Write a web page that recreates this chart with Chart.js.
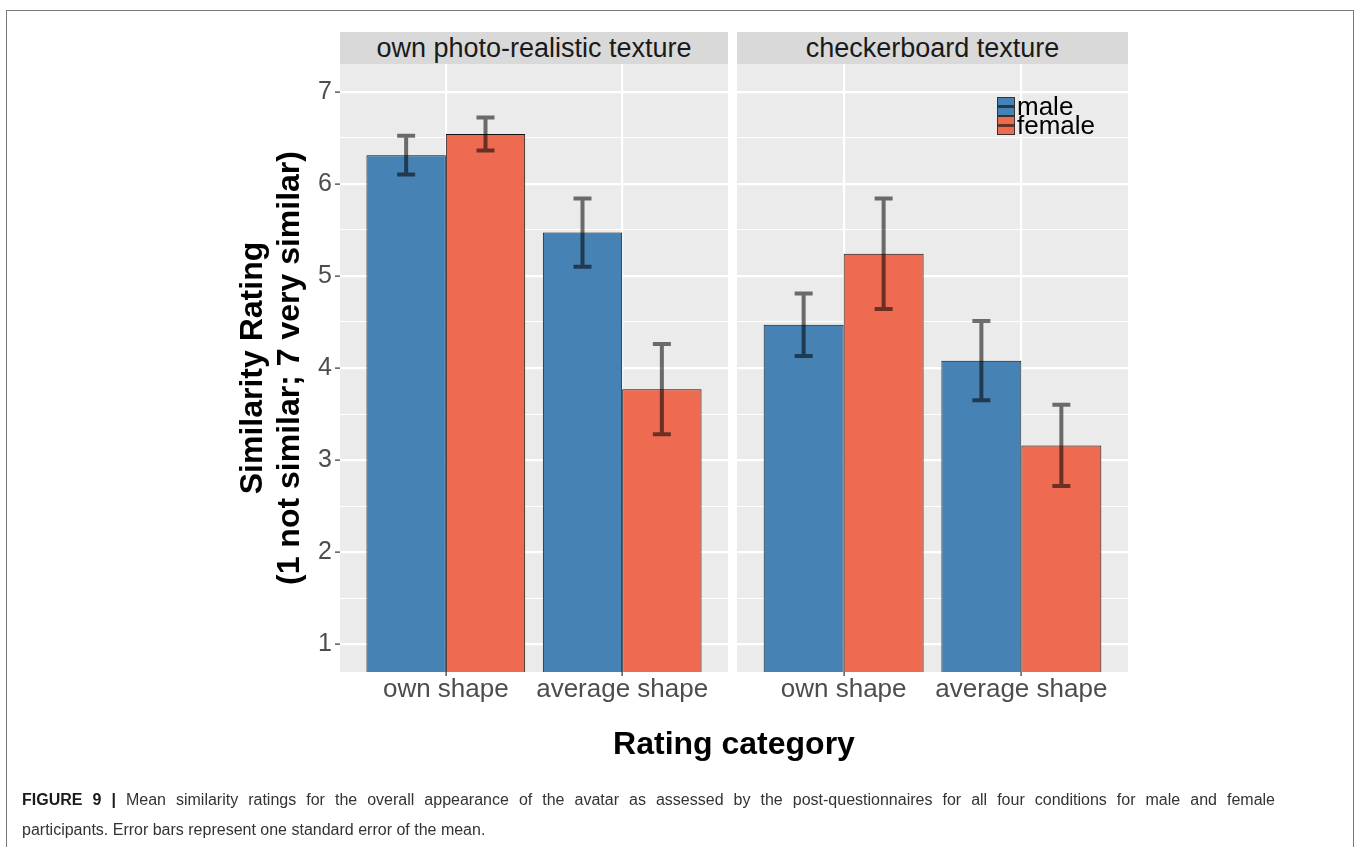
<!DOCTYPE html>
<html>
<head>
<meta charset="utf-8">
<script src="https://cdn.jsdelivr.net/npm/chart.js@4.4.1/dist/chart.umd.min.js"></script>
<style>
html,body{margin:0;padding:0;background:#fff;width:1358px;height:847px;overflow:hidden;font-family:"Liberation Sans",Arial,Helvetica,sans-serif;}
#frame{position:absolute;left:6px;top:10px;width:1348px;height:900px;border:1.5px solid #7a7a7a;box-sizing:border-box;}
canvas{position:absolute;left:0;top:0;}
.strip{position:absolute;top:32px;height:32px;background:#D9D9D9;color:#1A1A1A;font-size:27px;line-height:32px;text-align:center;white-space:nowrap;}
#xtitle{position:absolute;left:434px;width:600px;top:724px;text-align:center;font-weight:bold;font-size:32px;line-height:38px;color:#000;}
#legend{position:absolute;left:997px;top:97px;}
.lrow{position:relative;height:19px;}
.key{position:absolute;left:0;top:0;width:18px;height:19px;box-sizing:border-box;border:1px solid #333;}
.key i{position:absolute;left:0;right:0;top:7px;height:3px;background:rgba(0,0,0,0.55);}
.ltxt{position:absolute;left:20px;top:0;font-size:26px;line-height:19px;color:#000;white-space:nowrap;}
#caption{position:absolute;left:22px;top:785px;width:1253px;font-size:16px;line-height:30px;color:#333;}
#caption .l1{display:block;text-align:justify;text-align-last:justify;white-space:nowrap;}
#caption .l2{display:block;white-space:nowrap;}
#caption b{color:#1a1a1a;}
</style>
</head>
<body>
<div id="frame"></div>
<canvas id="c1" width="1358" height="847"></canvas>
<canvas id="c2" width="1358" height="847"></canvas>
<div class="strip" id="s1" style="left:340px;width:388px;"></div>
<div class="strip" id="s2" style="left:737px;width:391px;"></div>
<div id="legend"></div>
<div id="xtitle"></div>
<div id="caption"><span class="l1"><b>FIGURE 9 |</b> Mean similarity ratings for the overall appearance of the avatar as assessed by the post-questionnaires for all four conditions for male and female</span><span class="l2">participants. Error bars represent one standard error of the mean.</span></div>
<script>
// ---- data ----
const categories = ['own shape', 'average shape'];
const panelLabels = ['own photo-realistic texture', 'checkerboard texture'];
const seriesLabels = ['male', 'female'];
const seriesColors = ['#4682B4', '#EE6A50'];
const photoMale = [6.31, 5.47];
const photoFemale = [6.54, 3.77];
const photoMaleSE = [0.21, 0.37];
const photoFemaleSE = [0.18, 0.49];
const checkerMale = [4.47, 4.08];
const checkerFemale = [5.24, 3.16];
const checkerMaleSE = [0.34, 0.43];
const checkerFemaleSE = [0.60, 0.44];
const yTitle = ['Similarity Rating', '(1 not similar; 7 very similar)'];
const xTitle = 'Rating category';

document.getElementById('s1').textContent = panelLabels[0];
document.getElementById('s2').textContent = panelLabels[1];
document.getElementById('xtitle').textContent = xTitle;
const leg = document.getElementById('legend');
seriesLabels.forEach((l, i) => {
  const r = document.createElement('div'); r.className = 'lrow';
  r.innerHTML = '<span class="key" style="background:' + seriesColors[i] + '"><i></i></span><span class="ltxt">' + l + '</span>';
  leg.appendChild(r);
});

Chart.defaults.font.family = '"Liberation Sans", Arial, Helvetica, sans-serif';

const panelBg = {
  id: 'panelBg',
  beforeDraw(chart) {
    const {ctx, chartArea: a} = chart;
    ctx.save();
    ctx.fillStyle = '#EBEBEB';
    ctx.fillRect(a.left, a.top, a.right - a.left, a.bottom - a.top);
    ctx.restore();
  }
};

const errBars = {
  id: 'errBars',
  afterDatasetsDraw(chart) {
    const ctx = chart.ctx, ys = chart.scales.y;
    ctx.save();
    ctx.beginPath();
    chart.data.datasets.forEach((ds, i) => {
      const meta = chart.getDatasetMeta(i);
      meta.data.forEach((bar, j) => {
        const v = ds.data[j].y, se = ds.se[j];
        const t = ys.getPixelForValue(v + se), b = ys.getPixelForValue(v - se);
        const cx = bar.x, hw = 9;
        ctx.moveTo(cx - hw, t); ctx.lineTo(cx + hw, t);
        ctx.moveTo(cx, t); ctx.lineTo(cx, b);
        ctx.moveTo(cx - hw, b); ctx.lineTo(cx + hw, b);
      });
    });
    ctx.strokeStyle = 'rgba(0,0,0,0.55)';
    ctx.lineWidth = 4;
    ctx.stroke();
    ctx.restore();
  }
};

function makeChart(id, male, female, maleSE, femaleSE, isLeft, areaLeft, areaRight) {
  const toPts = arr => arr.map((v, i) => ({x: i + 1, y: v}));
  return new Chart(document.getElementById(id), {
    type: 'bar',
    data: {
      datasets: [
        {label: seriesLabels[0], data: toPts(male), se: maleSE, backgroundColor: seriesColors[0]},
        {label: seriesLabels[1], data: toPts(female), se: femaleSE, backgroundColor: seriesColors[1]}
      ]
    },
    plugins: [panelBg, errBars],
    options: {
      responsive: false,
      animation: false,
      devicePixelRatio: 1,
      layout: {padding: {left: 0, right: 1358 - areaRight, top: 64, bottom: 0}},
      plugins: {legend: {display: false}, tooltip: {enabled: false}},
      datasets: {bar: {categoryPercentage: 0.9, barPercentage: 1, borderWidth: 1, borderColor: '#111111', borderSkipped: 'start'}},
      scales: {
        x: {
          type: 'linear', min: 0.4, max: 2.6, offset: false,
          afterFit(s) { s.height = 847 - 672; },
          afterBuildTicks(s) { s.ticks = s.ticks.filter(t => Number.isInteger(t.value) && t.value >= 1 && t.value <= categories.length); },
          ticks: {stepSize: 1, includeBounds: false, autoSkip: false, maxRotation: 0, font: {size: 26}, color: '#4D4D4D', padding: -2,
            callback: v => categories[v - 1] || ''},
          grid: {offset: false, color: '#ffffff', lineWidth: 2.2, tickColor: '#333333', tickLength: 4, tickWidth: 1.2},
          border: {display: false}
        },
        y: {
          min: 0.7, max: 7.3,
          afterFit(s) { s.width = areaLeft; },
          ticks: {display: isLeft, stepSize: 0.5, includeBounds: false, font: {size: 25}, color: '#4D4D4D', padding: 3,
            callback: v => Number.isInteger(v) ? String(v) : ''},
          grid: {
            color: '#ffffff',
            lineWidth: c => (c.tick && Number.isInteger(c.tick.value)) ? 2.2 : 1.1,
            tickColor: c => (c.tick && Number.isInteger(c.tick.value)) ? '#333333' : 'rgba(0,0,0,0)',
            tickWidth: 1.2, tickLength: 5, drawTicks: isLeft
          },
          border: {display: false},
          title: {display: isLeft, text: yTitle, color: '#000', font: {size: 32, weight: 'bold', lineHeight: 1.15}, padding: {top: 235, bottom: 0}}
        }
      }
    }
  });
}

makeChart('c1', photoMale, photoFemale, photoMaleSE, photoFemaleSE, true, 340, 728);
makeChart('c2', checkerMale, checkerFemale, checkerMaleSE, checkerFemaleSE, false, 737, 1128);
</script>
</body>
</html>
